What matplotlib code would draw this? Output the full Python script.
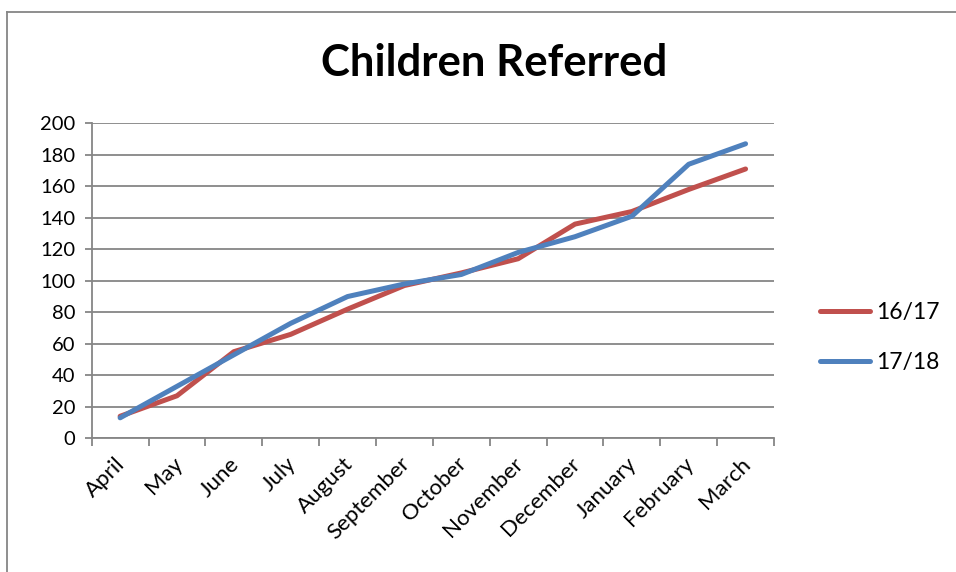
import matplotlib
matplotlib.use('Agg')
import matplotlib.pyplot as plt
import matplotlib.transforms as mtransforms
from matplotlib.lines import Line2D

months = ['April', 'May', 'June', 'July', 'August', 'September', 'October',
          'November', 'December', 'January', 'February', 'March']
s1617 = [14, 27, 55, 66, 82, 97, 105, 114, 136, 144, 158, 171]
s1718 = [13, 33, 53, 73, 90, 98, 104, 118, 128, 141, 174, 187]

plt.rcParams['font.family'] = ['Lato', 'DejaVu Sans']

fig = plt.figure(figsize=(9.56, 5.72), dpi=100)
ax = fig.add_axes([91.7/956, 1 - 438.3/572, 682.3/956, 315/572])

x = [i + 0.5 for i in range(len(months))]
ax.plot(x, s1617, color='#C0504D', lw=3.6, label='16/17', solid_capstyle='round')
ax.plot(x, s1718, color='#4F81BD', lw=3.6, label='17/18', solid_capstyle='round')

ax.set_xlim(0, 12)
ax.set_ylim(0, 200)
ax.set_yticks(range(0, 201, 20))
ax.grid(axis='y', color='#868686', lw=1.3)
ax.set_axisbelow(True)

ax.set_xticks(x)
ax.set_xticklabels(months, rotation=45, ha='right', va='top', rotation_mode='anchor', fontsize=16)
ax.tick_params(axis='x', length=0, pad=11)
shift = mtransforms.ScaledTranslation(-5/100, 0, fig.dpi_scale_trans)
for lab in ax.get_xticklabels():
    lab.set_transform(lab.get_transform() + shift)
ax.set_xticks(range(13), minor=True)
ax.tick_params(axis='x', which='minor', length=6, color='#868686', width=1.3, direction='out')
ax.tick_params(axis='y', length=5, color='#868686', width=1.3, labelsize=14.5, pad=7)

for s in ['top', 'right']:
    ax.spines[s].set_visible(False)
for s in ['left', 'bottom']:
    ax.spines[s].set_color('#868686')
    ax.spines[s].set_linewidth(1.3)

fig.text(494/956, 1 - 63/572, 'Children Referred', ha='center', va='center',
         fontsize=31.5, fontweight='bold')

leg = ax.legend(loc='center left', bbox_to_anchor=(1.05, 0.32), frameon=False, borderpad=0,
                fontsize=16.5, handlelength=2.2, labelspacing=1.3, handletextpad=0.25)

fig.add_artist(Line2D([7/956, 7/956], [0, 1 - 12/572], color='#868686', lw=1.3))
fig.add_artist(Line2D([7/956, 1], [1 - 12/572, 1 - 12/572], color='#868686', lw=1.3))

fig.savefig('out.png', dpi=100)
